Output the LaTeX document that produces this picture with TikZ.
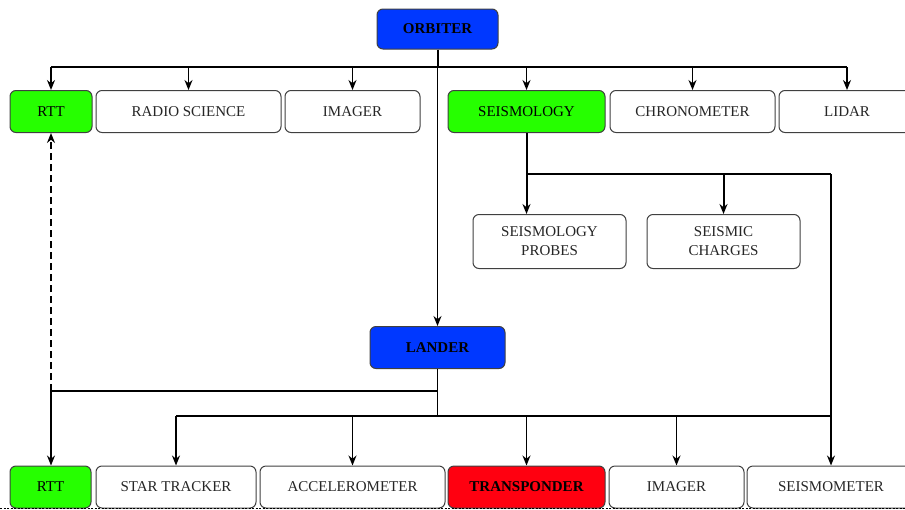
\documentclass[tikz,border=0pt]{standalone}
\usepackage{fontspec}
\setmainfont{Liberation Serif}
\usetikzlibrary{arrows.meta}
\definecolor{mgreen}{RGB}{38,255,0}
\definecolor{mblue}{RGB}{0,56,255}
\definecolor{mred}{RGB}{255,0,16}
\tikzset{
  box/.style={draw=black!75, line width=1pt, rounded corners=6pt, inner sep=0pt,
    align=center, font=\fontsize{15}{18}\selectfont, text=black!85, fill=white},
  gbox/.style={box, fill=mgreen, text=black},
  bbox/.style={box, fill=mblue, text=black, font=\fontsize{15}{18}\selectfont\bfseries},
  rbox/.style={box, fill=mred, text=black, font=\fontsize{15}{18}\selectfont\bfseries},
  conn/.style={line width=2pt, draw=black},
  thin conn/.style={line width=1.5pt, draw=black},
  arr/.style={-{Stealth[length=10pt,width=8pt]}},
}
\begin{document}
\begin{tikzpicture}[x=1pt,y=-1pt]
\useasboundingbox (0,0) rectangle (905,509);
\clip (0,0) rectangle (905,509);
% nodes
\node[bbox, minimum width=121, minimum height=40] (orb) at (437.5,29) {ORBITER};
\node[gbox, minimum width=82, minimum height=42] (rtt1) at (51,111.5) {RTT};
\node[box, minimum width=185, minimum height=42] (radio) at (188.5,111.5) {RADIO SCIENCE};
\node[box, minimum width=135, minimum height=42] (img1) at (352.5,111.5) {IMAGER};
\node[gbox, minimum width=157, minimum height=42] (seis) at (526.5,111.5) {SEISMOLOGY};
\node[box, minimum width=165, minimum height=42] (chron) at (692.5,111.5) {CHRONOMETER};
\node[box, minimum width=136, minimum height=42] (lidar) at (847,111.5) {LIDAR};
\node[box, minimum width=153, minimum height=54] (probes) at (549.5,241.5) {SEISMOLOGY\\[1pt]PROBES};
\node[box, minimum width=153, minimum height=54] (charges) at (723.5,241.5) {SEISMIC\\[1pt]CHARGES};
\node[bbox, minimum width=135, minimum height=42] (lander) at (437.5,347.5) {LANDER};
\node[gbox, minimum width=81, minimum height=42] (rtt2) at (50.5,487) {RTT};
\node[box, minimum width=160, minimum height=42] (star) at (176,487) {STAR TRACKER};
\node[box, minimum width=185, minimum height=42] (acc) at (352.5,487) {ACCELEROMETER};
\node[rbox, minimum width=157, minimum height=42] (trans) at (526.5,487) {TRANSPONDER};
\node[box, minimum width=135, minimum height=42] (img2) at (676.5,487) {IMAGER};
\node[box, minimum width=168, minimum height=42] (seism) at (831,487) {SEISMOMETER};
% junction coordinates
\coordinate (ob) at (437.5,67);
\coordinate (sj) at (526.5,174);
\coordinate (sr) at (831,174);
\coordinate (lj1) at (437.5,391);
\coordinate (lj2) at (437.5,416);
% orbiter bus
\draw[conn] (orb.south) -- (ob);
\draw[conn] (51,67) -- (847,67);
\foreach \n/\x in {rtt1/51, radio/188.5, img1/352.5, seis/526.5, chron/692.5, lidar/847}
  \draw[thin conn, arr] (\x,67) -- (\n.north -| \x,0);
\draw[thin conn, arr] (ob) -- (lander.north);
% seismology branch
\draw[conn] (seis.south) -- (sj);
\draw[conn, arr] (sj) -- (sj |- probes.north);
\draw[thin conn] (sj) -- (sr);
\draw[conn, arr] (723.5,174) -- (charges.north);
\draw[thin conn] (sr) -- (831,416);
% lander bus
\draw[thin conn] (lander.south) -- (lj2);
\draw[thin conn] (lj1) -- (51,391);
\draw[thin conn, arr] (51,391) -- (rtt2.north -| 51,0);
\draw[conn] (176,416) -- (831,416);
\foreach \n/\x in {star/176, acc/352.5, trans/526.5, img2/676.5, seism/831}
  \draw[thin conn, arr] (\x,416) -- (\n.north -| \x,0);
% dashed link
\draw[thin conn, arr, dash pattern=on 7pt off 4pt] (51,391) -- (rtt1.south -| 51,0);
% bottom dotted edge
\draw[line width=0.6pt, dash pattern=on 2pt off 1.5pt] (0,508.5) -- (905,508.5);
\end{tikzpicture}
\end{document}
